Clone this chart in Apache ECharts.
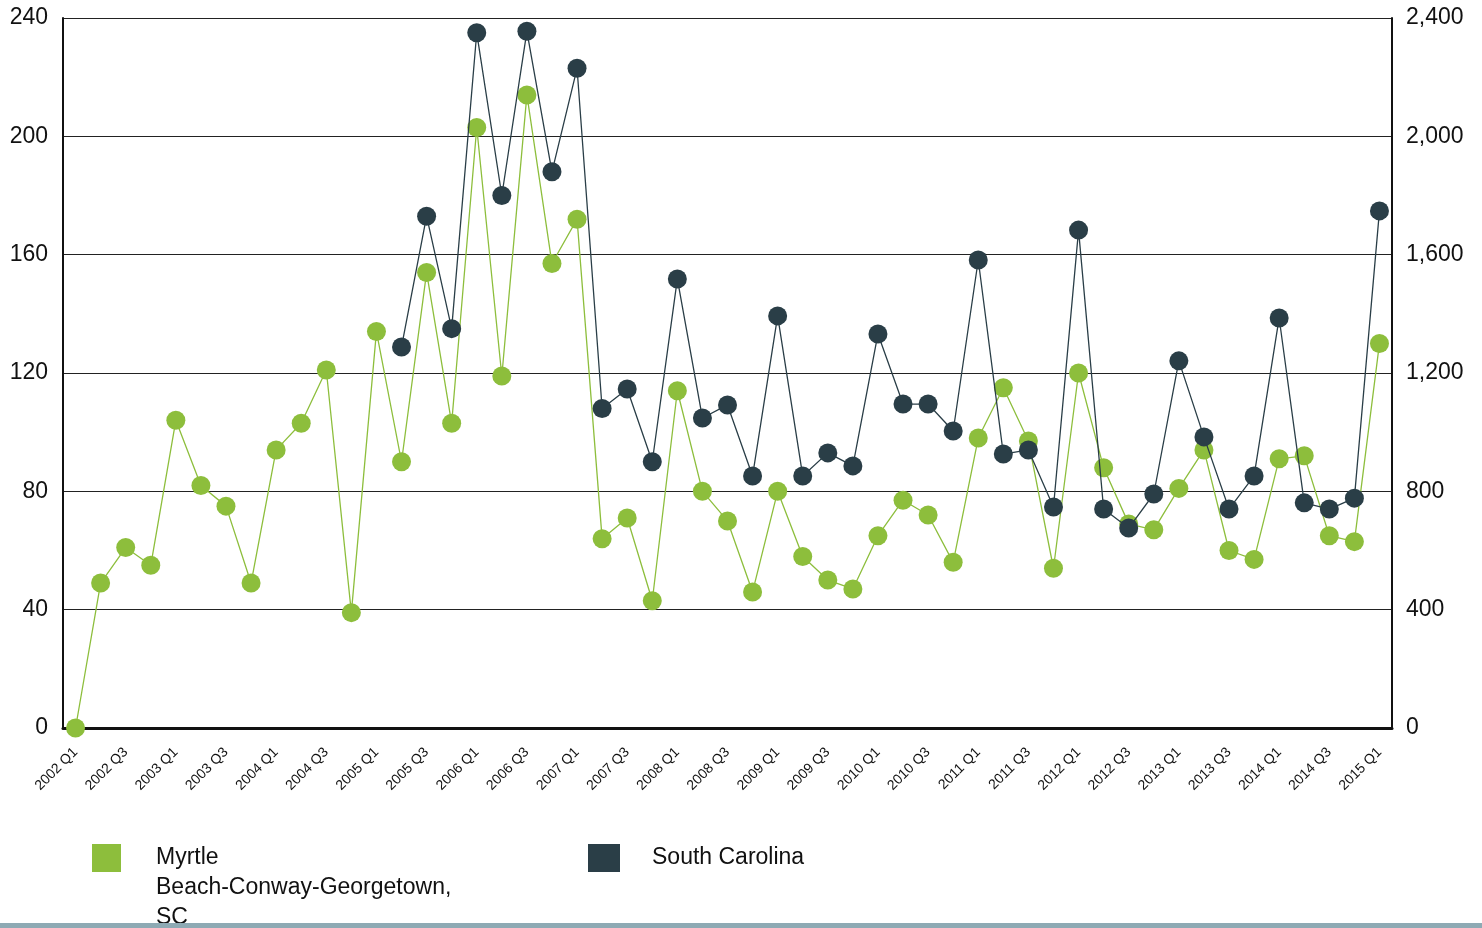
<!DOCTYPE html>
<html>
<head>
<meta charset="utf-8">
<script src="https://cdn.jsdelivr.net/npm/echarts@6/dist/echarts.min.js"></script>
<style>
html,body{margin:0;padding:0;background:#fff;}
#chart{width:1482px;height:928px;}
</style>
</head>
<body>
<div id="chart"></div>
<script>
const quarters = [
  '2002 Q1','2002 Q2','2002 Q3','2002 Q4',
  '2003 Q1','2003 Q2','2003 Q3','2003 Q4',
  '2004 Q1','2004 Q2','2004 Q3','2004 Q4',
  '2005 Q1','2005 Q2','2005 Q3','2005 Q4',
  '2006 Q1','2006 Q2','2006 Q3','2006 Q4',
  '2007 Q1','2007 Q2','2007 Q3','2007 Q4',
  '2008 Q1','2008 Q2','2008 Q3','2008 Q4',
  '2009 Q1','2009 Q2','2009 Q3','2009 Q4',
  '2010 Q1','2010 Q2','2010 Q3','2010 Q4',
  '2011 Q1','2011 Q2','2011 Q3','2011 Q4',
  '2012 Q1','2012 Q2','2012 Q3','2012 Q4',
  '2013 Q1','2013 Q2','2013 Q3','2013 Q4',
  '2014 Q1','2014 Q2','2014 Q3','2014 Q4',
  '2015 Q1'
];
const myrtleBeach = [
  0, 49, 61, 55,
  104, 82, 75, 49,
  94, 103, 121, 39,
  134, 90, 154, 103,
  203, 119, 214, 157,
  172, 64, 71, 43,
  114, 80, 70, 46,
  80, 58, 50, 47,
  65, 77, 72, 56,
  98, 115, 97, 54,
  120, 88, 69, 67,
  81, 94, 60, 57,
  91, 92, 65, 63,
  130
];
const southCarolina = [
  null, null, null, null,
  null, null, null, null,
  null, null, null, null,
  null, 1288, 1730, 1350,
  2350, 1800, 2355, 1880,
  2230, 1080, 1146, 900,
  1518, 1048, 1092, 852,
  1393, 852, 930, 886,
  1332, 1095, 1095, 1004,
  1582, 926, 940, 747,
  1683, 740, 676, 791,
  1241, 984, 740, 852,
  1386, 761, 740, 777,
  1748
];
const seriesNames = ['Myrtle Beach-Conway-Georgetown, SC', 'South Carolina'];
const leftTicks = { min: 0, max: 240, interval: 40 };
const rightTicks = { min: 0, max: 2400, interval: 400 };

const GREEN = '#8dbe3c';
const DARK = '#2a3e47';
const FONT = '"Liberation Sans", Arial, sans-serif';

const chart = echarts.init(document.getElementById('chart'), null, { renderer: 'canvas' });
chart.setOption({
  backgroundColor: '#fff',
  animation: false,
  textStyle: { fontFamily: FONT },
  grid: { left: 63, right: 90, top: 18, bottom: 200, containLabel: false },
  legend: [
    {
      data: [seriesNames[0]],
      left: 92, top: 783, padding: 0,
      icon: 'rect', itemWidth: 29, itemHeight: 28,
      formatter: () => '\n\nMyrtle\nBeach-Conway-Georgetown,\nSC',
      textStyle: { fontSize: 23, color: '#111', fontFamily: FONT, lineHeight: 30, padding: [0, 0, 0, 30] }
    },
    {
      data: [seriesNames[1]],
      left: 588, top: 843, padding: 0,
      icon: 'rect', itemWidth: 32, itemHeight: 28,
      textStyle: { fontSize: 23, color: '#111', fontFamily: FONT, lineHeight: 30, padding: [0, 0, 0, 27] }
    }
  ],
  xAxis: {
    type: 'category',
    data: quarters,
    boundaryGap: true,
    axisLine: { lineStyle: { color: '#111', width: 3 } },
    axisTick: { show: false },
    axisLabel: { interval: 1, rotate: 45, fontSize: 14, color: '#111', margin: 22, fontFamily: FONT },
    splitLine: { show: false }
  },
  yAxis: [
    {
      type: 'value', position: 'left',
      min: leftTicks.min, max: leftTicks.max, interval: leftTicks.interval,
      axisLine: { show: true, lineStyle: { color: '#111', width: 2 } },
      axisTick: { show: false },
      axisLabel: { fontSize: 23, color: '#111', margin: 15, fontFamily: FONT },
      splitLine: { show: true, lineStyle: { color: '#222', width: 1.2 } }
    },
    {
      type: 'value', position: 'right',
      min: rightTicks.min, max: rightTicks.max, interval: rightTicks.interval,
      axisLine: { show: true, lineStyle: { color: '#111', width: 2 } },
      axisTick: { show: false },
      axisLabel: { fontSize: 23, color: '#111', margin: 14, fontFamily: FONT,
        formatter: v => v.toLocaleString('en-US') },
      splitLine: { show: false }
    }
  ],
  series: [
    {
      name: seriesNames[0], type: 'line', yAxisIndex: 0,
      data: myrtleBeach,
      symbol: 'circle', symbolSize: 19, showAllSymbol: true,
      itemStyle: { color: GREEN },
      lineStyle: { color: GREEN, width: 1.3 },
      z: 3
    },
    {
      name: seriesNames[1], type: 'line', yAxisIndex: 1,
      data: southCarolina,
      symbol: 'circle', symbolSize: 19, showAllSymbol: true,
      itemStyle: { color: DARK },
      lineStyle: { color: DARK, width: 1.3 },
      z: 4
    }
  ],
  graphic: [
    { type: 'rect', left: 0, top: 923, z: 100, shape: { width: 1482, height: 5 }, style: { fill: '#8eaab4' } }
  ]
});
</script>
</body>
</html>
